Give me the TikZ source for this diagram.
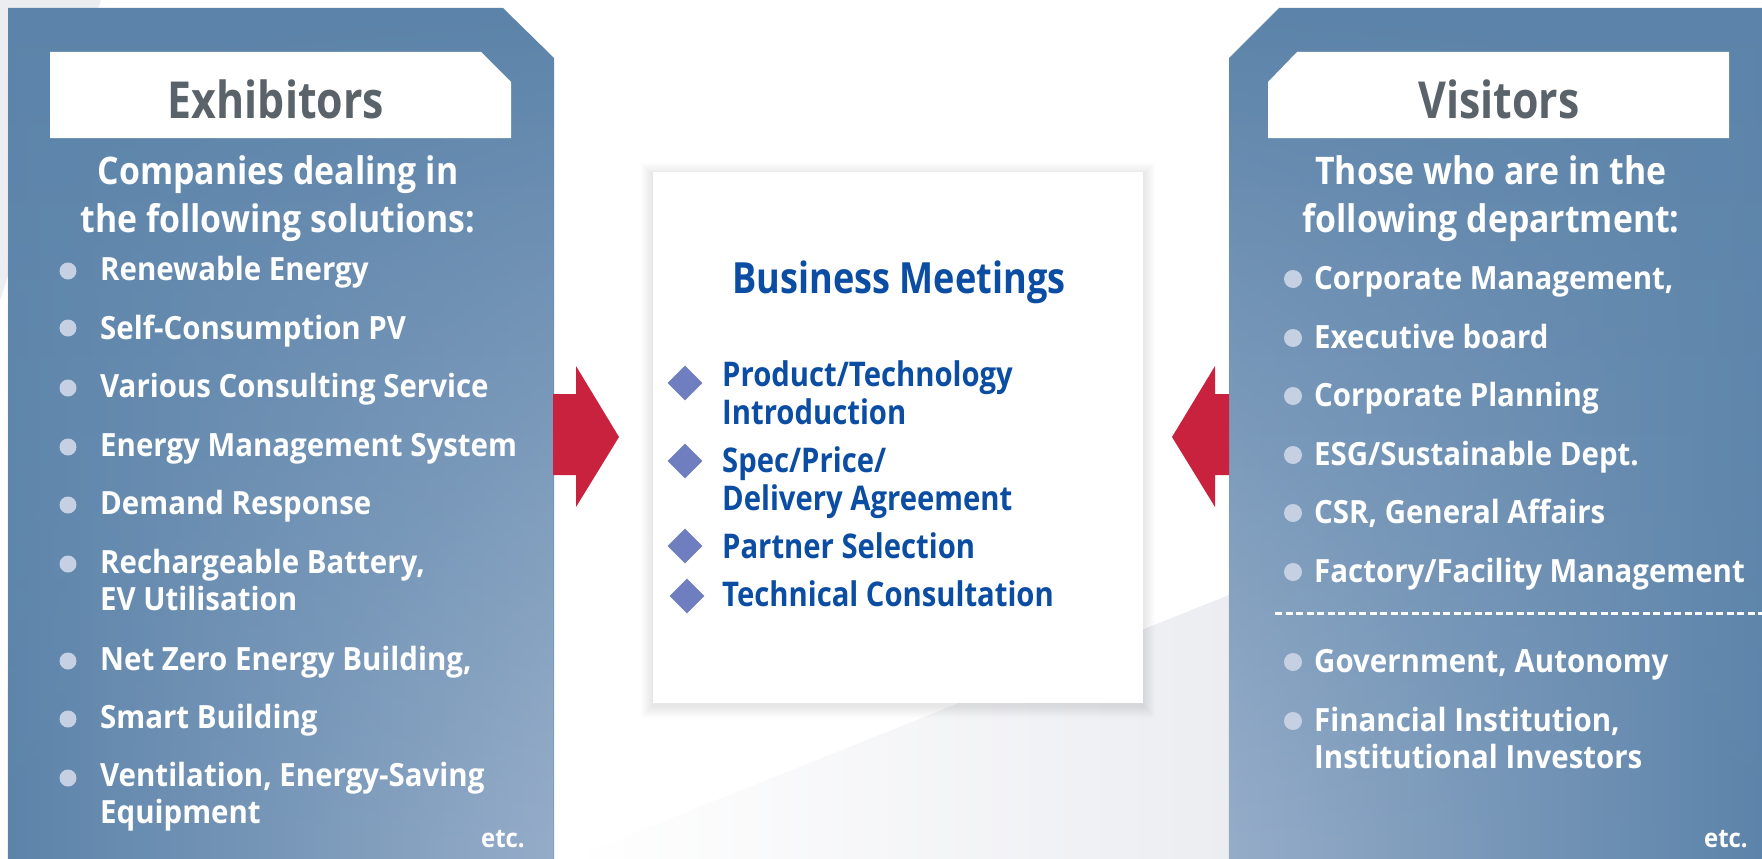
\documentclass[tikz,border=0pt]{standalone}
\usepackage{fontspec}
\newfontfamily\titlefont{Open Sans}[FakeStretch=0.84]
\newfontfamily\subfont{Open Sans}[FakeStretch=0.89]
\newfontfamily\itemfont{Open Sans}[FakeStretch=0.92]
\newfontfamily\meetfont{Open Sans}[FakeStretch=0.86]
\usetikzlibrary{shapes.geometric,fadings}
\definecolor{pnldark}{RGB}{92,131,169}
\definecolor{pnlmid}{RGB}{104,142,178}
\definecolor{pnllight}{RGB}{150,173,201}
\definecolor{dotcol}{RGB}{197,209,226}
\definecolor{titlegray}{RGB}{89,99,105}
\definecolor{meetblue}{RGB}{11,77,162}
\definecolor{dmdblue}{RGB}{111,126,190}
\definecolor{arrowred}{RGB}{200,34,63}
\definecolor{bggray}{RGB}{236,237,241}
\tikzset{
    pnltitle/.style={font=\titlefont\bfseries\fontsize{51}{56}\selectfont,text=titlegray,inner sep=0pt,anchor=base},
    pnlsub/.style={font=\subfont\bfseries\fontsize{38}{48}\selectfont,text=white,align=center,inner sep=0pt,anchor=base},
    item/.style={font=\itemfont\bfseries\fontsize{32}{37}\selectfont,text=white,align=left,inner sep=0pt,anchor=base west},
    etc/.style={font=\itemfont\bfseries\fontsize{26}{28}\selectfont,text=white,inner sep=0pt,anchor=base east},
    meettitle/.style={font=\titlefont\bfseries\fontsize{43}{48}\selectfont,text=meetblue,inner sep=0pt,anchor=base},
    meet/.style={font=\meetfont\bfseries\fontsize{34}{38}\selectfont,text=meetblue,align=left,inner sep=0pt,anchor=base west},
    dmd/.style={diamond,fill=dmdblue,inner sep=0pt,minimum width=35pt,minimum height=35pt},
    bigarrow/.style={fill=arrowred}
}

\begin{document}
\begin{tikzpicture}[x=1pt,y=-1pt]
    \useasboundingbox (0,0) rectangle (1762,859);
    % background
    \fill[bggray] (0,0) -- (101,0) -- (0,300) -- cycle;
    \shade[left color=white,right color=bggray] (569,859) -- (1229,595) -- (1229,859) -- cycle;

    % exhibitors panel
    \shade[top color=pnldark,bottom color=pnlmid]
        (8,8) -- (503,8) -- (554,58) -- (554,859) -- (8,859) -- cycle;
    \shade[left color=pnldark,right color=pnllight,path fading=north]
        (8,8) -- (503,8) -- (554,58) -- (554,859) -- (8,859) -- cycle;
    \fill[white] (50,52) -- (481,52) -- (511,82) -- (511,138) -- (50,138) -- cycle;
    \node[pnltitle] (exh) at (276,118) {Exhibitors};
    \node[pnlsub] (exhsub) at (278,232) {Companies dealing in\\the following solutions:};
    \node[item] (e1) at (100,280) {Renewable Energy};
    \node[item] (e2) at (100,339) {Self-Consumption PV};
    \node[item] (e3) at (100,397) {Various Consulting Service};
    \node[item] (e4) at (100,456) {Energy Management System};
    \node[item] (e5) at (100,514) {Demand Response};
    \node[item] (e6) at (100,610) {Rechargeable Battery,\\EV Utilisation};
    \node[item] (e7) at (100,670) {Net Zero Energy Building,};
    \node[item] (e8) at (100,728) {Smart Building};
    \node[item] (e9) at (100,823) {Ventilation, Energy-Saving\\Equipment};
    \node[etc] (exhetc) at (525,847) {etc.};
    \foreach \y in {271,328,388,447,505,564,661,719,778}
        \fill[dotcol] (68,\y) circle (8.5);

    % visitors panel
    \shade[top color=pnldark,bottom color=pnlmid]
        (1229,58) -- (1279,8) -- (1762,8) -- (1762,859) -- (1229,859) -- cycle;
    \shade[left color=pnllight,right color=pnldark,path fading=north]
        (1229,58) -- (1279,8) -- (1762,8) -- (1762,859) -- (1229,859) -- cycle;
    \fill[white] (1268,82) -- (1297,52) -- (1729,52) -- (1729,138) -- (1268,138) -- cycle;
    \node[pnltitle] (vis) at (1499,118) {Visitors};
    \node[pnlsub] (vissub) at (1491,232) {Those who are in the\\following department:};
    \node[item] (v1) at (1314,289) {Corporate Management,};
    \node[item] (v2) at (1314,348) {Executive board};
    \node[item] (v3) at (1314,406) {Corporate Planning};
    \node[item] (v4) at (1314,465) {ESG/Sustainable Dept.};
    \node[item] (v5) at (1314,523) {CSR, General Affairs};
    \node[item] (v6) at (1314,582) {Factory/Facility Management};
    \node[item] (v7) at (1314,672) {Government, Autonomy};
    \node[item] (v8) at (1314,768) {Financial Institution,\\Institutional Investors};
    \node[etc] (visetc) at (1748,847) {etc.};
    \foreach \y in {279,338,396,455,513,572,662,721}
        \fill[dotcol] (1293,\y) circle (9);
    \coordinate (dashL) at (1275,613);
    \coordinate (dashR) at (1762,613);
    \draw[white,line width=3pt,dash pattern=on 7pt off 3.5pt] (dashL) -- (dashR);

    % business meetings box
    \foreach \s in {1,...,12}
        \fill[black,opacity=0.007] (653-\s,172-\s+3) rectangle (1143+\s,703+\s+3);
    \node[fill=white,inner sep=0pt,minimum width=490pt,minimum height=531pt] (box) at (898,437.5) {};
    \node[meettitle] (mt) at (899,293) {Business Meetings};
    \node[dmd] (d1) at (685,383) {};
    \node[meet] (m1) at (722,424) {Product/Technology\\Introduction};
    \node[dmd] (d2) at (685,461) {};
    \node[meet] (m2) at (722,510) {Spec/Price/\\Delivery Agreement};
    \node[dmd] (d3) at (685,546) {};
    \node[meet] (m3) at (722,558) {Partner Selection};
    \node[dmd] (d4) at (687,596) {};
    \node[meet] (m4) at (722,606) {Technical Consultation};

    % arrows into the box
    \fill[bigarrow] (553,394) -- (576,394) -- (576,366) -- (619,437) -- (576,507) -- (576,475) -- (553,475) -- cycle;
    \fill[bigarrow] (1229,394) -- (1215,394) -- (1215,366) -- (1172,437) -- (1215,507) -- (1215,475) -- (1229,475) -- cycle;
\end{tikzpicture}
\end{document}
